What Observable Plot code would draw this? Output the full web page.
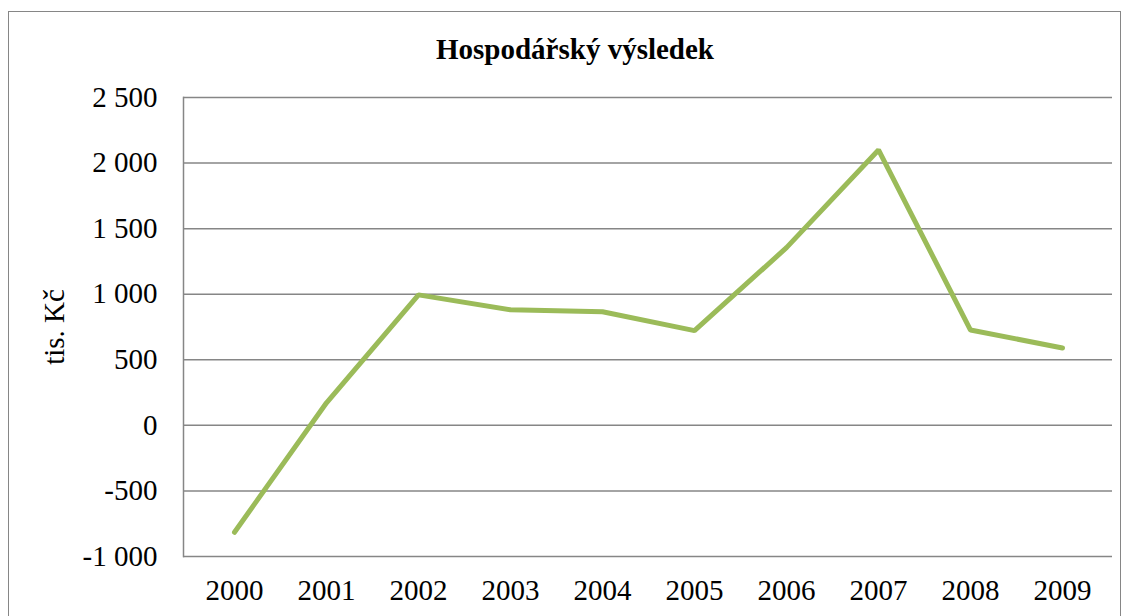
<!DOCTYPE html>
<html><head><meta charset="utf-8">
<script src="https://cdn.jsdelivr.net/npm/d3@7"></script>
<script src="https://cdn.jsdelivr.net/npm/@observablehq/plot@0.6"></script>
<style>
body{margin:0;background:#fff;}
#wrap{position:relative;width:1129px;height:616px;overflow:hidden;font-family:"Liberation Serif",serif;}
#border{position:absolute;left:8px;top:11px;width:1113px;height:700px;border:1.5px solid #868686;box-sizing:border-box;}
#title{position:absolute;top:31px;left:0;width:1150px;text-align:center;font-weight:bold;font-size:29px;line-height:36px;color:#000;font-family:"Liberation Serif",serif;}
#chart{position:absolute;left:0;top:0;}
#chart svg, #chart svg text{font-family:"Liberation Serif",serif !important;}
</style></head>
<body><div id="wrap"><div id="border"></div><div id="title"></div><div id="chart"></div></div>
<script>
const title = "Hospodářský výsledek";
const yLabel = "tis. Kč";
const years = [2000, 2001, 2002, 2003, 2004, 2005, 2006, 2007, 2008, 2009];
const values = [-815, 172, 995, 881, 866, 722, 1355, 2100, 727, 590];
const yTicks = [-1000, -500, 0, 500, 1000, 1500, 2000, 2500];

document.getElementById("title").textContent = title;
const fmt = d3.formatLocale({decimal: ",", thousands: " ", grouping: [3], currency: ["", ""], minus: "-"}).format(",");
const data = years.map((y, i) => ({year: y, value: values[i]}));

const chart = Plot.plot({
  width: 1129,
  height: 616,
  marginTop: 97,
  marginBottom: 60,
  marginLeft: 183,
  marginRight: 17,
  style: "font-family: 'Liberation Serif', serif; font-size: 29px; background: transparent; color: #000;",
  x: {type: "point", domain: years, padding: 0.5},
  y: {domain: [-1000, 2500]},
  marks: [
    Plot.ruleY(yTicks, {stroke: "#868686", strokeWidth: 1.5}),
    Plot.frame({anchor: "left", stroke: "#868686", strokeWidth: 1.5}),
    Plot.axisY({ticks: yTicks, tickSize: 0, tickPadding: 26, tickFormat: fmt, label: yLabel, labelAnchor: "center", labelArrow: "none", labelOffset: 140, fill: "#000"}),
    Plot.axisX({tickSize: 0, tickPadding: 23, tickFormat: d => String(d), label: null, fill: "#000"}),
    Plot.line(data, {x: "year", y: "value", stroke: "#9BBB59", strokeWidth: 5, strokeLinecap: "round", strokeLinejoin: "miter"})
  ]
});
document.getElementById("chart").appendChild(chart);
</script>
</body></html>
